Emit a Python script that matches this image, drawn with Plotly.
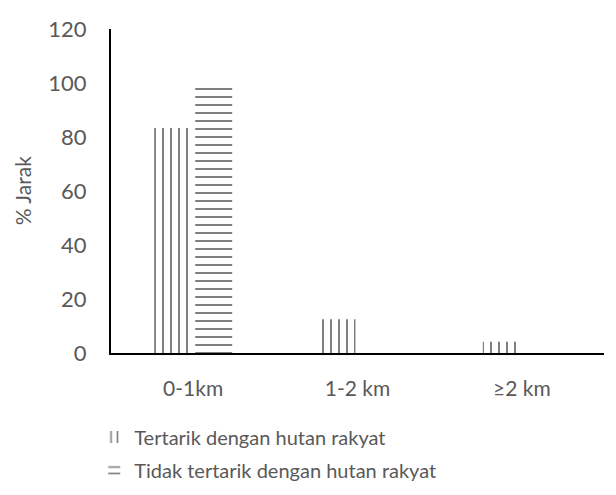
import plotly.graph_objects as go

# Distance categories and share of respondents (%) per interest group
categories = ["0-1km", "1-2 km", "≥2 km"]
tertarik = [83.3, 12.5, 4.2]
tidak_tertarik = [100, 0, 0]

series_names = ["Tertarik dengan hutan rakyat", "Tidak tertarik dengan hutan rakyat"]
y_ticks = [0, 20, 40, 60, 80, 100, 120]
y_title = "% Jarak"

font_family = "Lato"
text_color = "#595959"

fig = go.Figure()
fig.add_trace(go.Bar(
    x=categories, y=tertarik, name=series_names[0],
    marker=dict(color="white", line=dict(width=0),
                pattern=dict(shape="|", fgcolor="black", bgcolor="white",
                             size=8, solidity=0.25)),
    legend="legend",
))
fig.add_trace(go.Bar(
    x=categories, y=tidak_tertarik, name=series_names[1],
    marker=dict(color="white", line=dict(width=0),
                pattern=dict(shape="-", fgcolor="black", bgcolor="white",
                             size=8, solidity=0.25)),
    legend="legend2",
))

legend_style = dict(
    font=dict(family=font_family, size=20, color=text_color),
    bgcolor="rgba(0,0,0,0)", xanchor="left", yanchor="middle",
    xref="container", yref="container", orientation="v",
)

fig.update_layout(
    width=616, height=495,
    margin=dict(l=111, r=12, t=29, b=142, autoexpand=False),
    paper_bgcolor="white", plot_bgcolor="white",
    barmode="group", bargap=0.5, bargroupgap=0.1,
    font=dict(family=font_family, color=text_color),
    showlegend=True,
    legend=dict(x=0.153, y=0.117, **legend_style),
    legend2=dict(x=0.153, y=0.05, **legend_style),
    xaxis=dict(
        showline=True, linecolor="black", linewidth=2,
        ticks="", showgrid=False,
        ticklabelstandoff=16,
        tickfont=dict(family=font_family, size=21, color=text_color),
    ),
    yaxis=dict(
        range=[0, 120], tickvals=y_ticks,
        showline=True, linecolor="black", linewidth=2,
        ticks="", showgrid=False, zeroline=False,
        ticklabelstandoff=18,
        tickfont=dict(family=font_family, size=22, color=text_color),
    ),
    annotations=[dict(
        text=y_title, textangle=-90, showarrow=False,
        xref="paper", yref="paper", x=-0.18, y=0.5,
        xanchor="center", yanchor="middle",
        font=dict(family=font_family, size=21, color=text_color),
    )],
)

fig.write_html("out.html")
